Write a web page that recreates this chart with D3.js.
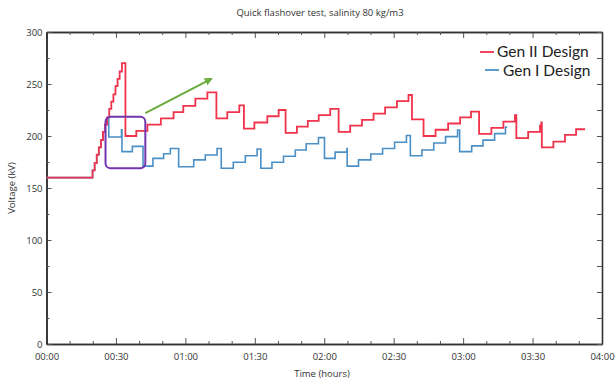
<!DOCTYPE html>
<html>
<head>
<meta charset="utf-8">
<script src="https://cdn.jsdelivr.net/npm/d3@7"></script>
<style>
  body { margin: 0; background: #fff; }
  text { font-family: "Open Sans", sans-serif; fill: #333; }
  .tick text { font-size: 9.5px; fill: #333; }
  .legend text { font-family: Lato, sans-serif; font-size: 15.5px; fill: #222; }
</style>
</head>
<body>
<div class="container"></div>
<script>
// time in minutes, voltage in kV
const redTimes = [0, 19.9, 20.8, 21.7, 22.6, 23.5, 24.4, 25.3, 26.2, 27.1, 28.0, 28.9, 29.8, 30.7, 31.6, 32.6,
  34.1, 38.8, 43.6, 49.4, 54.9, 59.1, 64.3, 69.5, 73.4, 78.1, 83.3, 85.3, 89.8, 95.4, 100.3,
  103.3, 108.2, 112.9, 117.6, 122.6, 126.2, 131.2, 136.3, 141.3, 146.3, 151.4, 156.4, 157.9,
  162.9, 168.1, 173.5, 178.7, 183.4, 186.9, 192.2, 197.4, 202.4, 203.0, 208.1, 213.2, 213.8,
  214.0, 219.0, 224.0, 228.8, 232.7];
const redValues = [160, 167, 174, 182, 189, 196, 204, 211, 218, 226, 233, 240, 248, 255, 262, 270,
  200, 205, 211, 217, 223, 229, 236, 242, 217, 223, 229.5, 207, 213, 219, 225,
  203, 209, 214.5, 220, 226, 204, 210, 215.5, 221.5, 227.6, 233.5, 239.4, 216,
  200, 206, 212, 218, 223.4, 202, 207.8, 213.8, 220, 198, 204, 210, 213,
  189, 194.5, 201, 206.5, 206.5];

const blueTimes = [0, 19.9, 20.8, 21.7, 22.6, 23.5, 24.4, 25.3, 26.2, 26.8, 26.9,
  32.4, 32.6, 37.1, 41.7, 46.0, 50.6, 53.5, 57.1, 63.6, 68.6, 73.7, 75.5, 80.7, 85.9, 91.0,
  92.6, 97.4, 102.4, 107.5, 112.2, 117.5, 120.1, 124.7, 129.8, 129.9, 134.8, 140.1, 145.2,
  150.4, 155.5, 157.2, 162.2, 167.3, 172.4, 177.6, 178.5, 183.7, 188.6, 193.6, 198.3, 199.0];
const blueValues = [160, 167, 174, 182, 189, 196, 204, 211, 217, 217, 199,
  206, 185, 190, 171, 178.5, 183, 188, 170.5, 177, 181.7, 188, 169, 174.7, 181, 187.5,
  169, 174.7, 180.5, 186.5, 192.5, 198.4, 178.5, 184.5, 188, 171, 177, 182.7, 188,
  194, 200.5, 181, 186.5, 193.3, 199.4, 205.8, 185, 190.5, 196, 202.3, 208.5, 208.5];

const seriesNames = ["Gen II Design", "Gen I Design"];
const seriesColors = ["#f0324b", "#4a8fc6"];

const xTicks = [0, 30, 60, 90, 120, 150, 180, 210, 240];
const xTickLabels = ["00:00", "00:30", "01:00", "01:30", "02:00", "02:30", "03:00", "03:30", "04:00"];
const yTicks = [0, 50, 100, 150, 200, 250, 300];

// annotations: highlight box and arrow (in data units)
const boxTimes = [25.5, 42.7];
const boxValues = [218.5, 169];
const arrowTimes = [42.7, 71.2];
const arrowValues = [222, 255];

const width = 616, height = 383;
const margin = {top: 32, right: 14, bottom: 39, left: 46.5};

const svg = d3.select(".container")
  .append("svg")
  .attr("width", width)
  .attr("height", height);

const x = d3.scaleLinear()
  .domain([0, 240])
  .range([margin.left, width - margin.right]);

const y = d3.scaleLinear()
  .domain([0, 300])
  .range([height - margin.bottom, margin.top]);

const minorX = d3.range(0, 241, 10).filter(d => d % 30 !== 0);
const minorY = d3.range(25, 300, 50);

// bottom axis
svg.append("g")
  .attr("transform", `translate(0, ${y(0)})`)
  .call(d3.axisBottom(x).tickValues(xTicks).tickFormat((d, i) => xTickLabels[i])
    .tickSizeInner(-6).tickSizeOuter(0).tickPadding(9));
svg.append("g")
  .attr("transform", `translate(0, ${y(0)})`)
  .call(d3.axisBottom(x).tickValues(minorX).tickFormat("").tickSizeInner(-3).tickSizeOuter(0));

// top axis
svg.append("g")
  .attr("transform", `translate(0, ${y(300)})`)
  .call(d3.axisTop(x).tickValues(xTicks).tickFormat("").tickSizeInner(-6).tickSizeOuter(0));
svg.append("g")
  .attr("transform", `translate(0, ${y(300)})`)
  .call(d3.axisTop(x).tickValues(minorX).tickFormat("").tickSizeInner(-3).tickSizeOuter(0));

// left axis
svg.append("g")
  .attr("transform", `translate(${x(0)}, 0)`)
  .call(d3.axisLeft(y).tickValues(yTicks).tickSizeInner(-5).tickSizeOuter(0).tickPadding(4));
svg.append("g")
  .attr("transform", `translate(${x(0)}, 0)`)
  .call(d3.axisLeft(y).tickValues(minorY).tickFormat("").tickSizeInner(-3).tickSizeOuter(0));

// right axis
svg.append("g")
  .attr("transform", `translate(${x(240)}, 0)`)
  .call(d3.axisRight(y).tickValues(d3.merge([yTicks, minorY])).tickFormat("").tickSizeInner(-5).tickSizeOuter(0));

svg.selectAll(".domain").attr("stroke", "#333").attr("stroke-width", 1.6);
svg.selectAll(".tick line").attr("stroke", "#555").attr("stroke-width", 1);

// axis titles
svg.append("text")
  .attr("x", 322)
  .attr("y", 377)
  .attr("text-anchor", "middle")
  .style("font-size", "9.5px")
  .text("Time (hours)");

svg.append("text")
  .attr("transform", `translate(15, ${y(150)}) rotate(-90)`)
  .attr("text-anchor", "middle")
  .style("font-size", "9.5px")
  .text("Voltage (kV)");

svg.append("text")
  .attr("x", 320)
  .attr("y", 16)
  .attr("text-anchor", "middle")
  .style("font-size", "9.5px")
  .text("Quick flashover test, salinity 80 kg/m3");

// series
const line = d3.line()
  .x(d => x(d[0]))
  .y(d => y(d[1]))
  .curve(d3.curveStepAfter);

const blueData = blueTimes.map((t, i) => [t, blueValues[i]]);
const redData = redTimes.map((t, i) => [t, redValues[i]]);

svg.append("path")
  .datum(blueData)
  .attr("d", line)
  .attr("fill", "none")
  .attr("stroke", seriesColors[1])
  .attr("stroke-width", 1.6);

svg.append("path")
  .datum(redData)
  .attr("d", line)
  .attr("fill", "none")
  .attr("stroke", seriesColors[0])
  .attr("stroke-width", 1.8);

// highlight box
svg.append("rect")
  .attr("x", x(boxTimes[0]))
  .attr("y", y(boxValues[0]))
  .attr("width", x(boxTimes[1]) - x(boxTimes[0]))
  .attr("height", y(boxValues[1]) - y(boxValues[0]))
  .attr("rx", 5)
  .attr("fill", "none")
  .attr("stroke", "#7434b0")
  .attr("stroke-width", 2);

// arrow
svg.append("defs").append("marker")
  .attr("id", "arrow")
  .attr("viewBox", "0 0 10 10")
  .attr("refX", 8)
  .attr("refY", 5)
  .attr("markerWidth", 4)
  .attr("markerHeight", 4)
  .attr("orient", "auto")
  .append("path")
  .attr("d", "M0,0 L10,5 L0,10 z")
  .attr("fill", "#6aab3e");

svg.append("line")
  .attr("x1", x(arrowTimes[0]))
  .attr("y1", y(arrowValues[0]))
  .attr("x2", x(arrowTimes[1]))
  .attr("y2", y(arrowValues[1]))
  .attr("stroke", "#6aab3e")
  .attr("stroke-width", 2)
  .attr("marker-end", "url(#arrow)");

// legend
const legend = svg.append("g").classed("legend", true);
const legendPos = [{x: 480, y: 52, tx: 497, ty: 57}, {x: 485, y: 70, tx: 503, ty: 76}];

legend.selectAll("line")
  .data(seriesNames)
  .join("line")
  .attr("x1", (d, i) => legendPos[i].x)
  .attr("x2", (d, i) => legendPos[i].x + 14)
  .attr("y1", (d, i) => legendPos[i].y)
  .attr("y2", (d, i) => legendPos[i].y)
  .attr("stroke", (d, i) => seriesColors[i])
  .attr("stroke-width", 1.8);

legend.selectAll("text")
  .data(seriesNames)
  .join("text")
  .attr("x", (d, i) => legendPos[i].tx)
  .attr("y", (d, i) => legendPos[i].ty)
  .text(d => d);
</script>
</body>
</html>
